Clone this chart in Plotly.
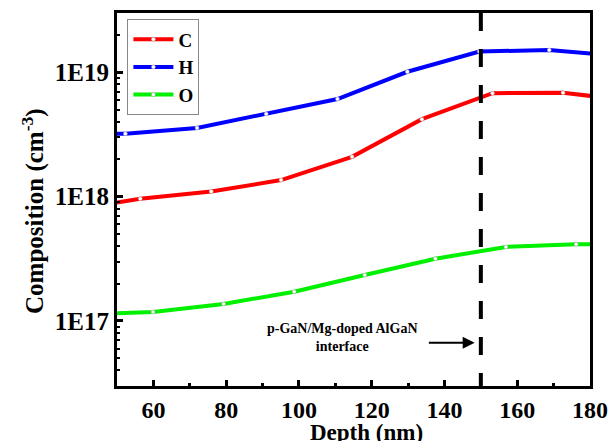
import plotly.graph_objects as go

# ---- data ----
depth_C = [37.0, 56.4, 75.9, 95.1, 114.6, 133.8, 153.2, 172.6, 192.0]
conc_C = [7.8e17, 9.6e17, 1.10e18, 1.36e18, 2.09e18, 4.2e18, 6.8e18, 6.84e18, 5.9e18]

depth_H = [32.9, 52.3, 72.0, 91.0, 110.6, 129.8, 149.6, 168.8, 188.2]
conc_H = [3.25e18, 3.2e18, 3.57e18, 4.63e18, 6.1e18, 1.01e19, 1.47e19, 1.51e19, 1.35e19]

depth_O = [40.5, 59.9, 79.3, 98.7, 118.1, 137.5, 156.9, 176.2, 195.6]
conc_O = [1.13e17, 1.18e17, 1.37e17, 1.72e17, 2.34e17, 3.17e17, 3.94e17, 4.14e17, 4.17e17]

series_names = ["C", "H", "O"]
series_colors = ["#FF0000", "#0000FF", "#00F000"]

interface_depth = 150
interface_label_lines = ["p-GaN/Mg-doped AlGaN", "interface"]

x_ticks = [60, 80, 100, 120, 140, 160, 180]
y_ticks = [1e17, 1e18, 1e19]
y_tick_labels = ["1E17", "1E18", "1E19"]

x_title = "Depth (nm)"
y_title = "Composition (cm<sup>-3</sup>)"

FONT = "'Liberation Serif', 'Times New Roman', serif"

fig = go.Figure()
for name, xs, ys, col in zip(series_names, [depth_C, depth_H, depth_O],
                             [conc_C, conc_H, conc_O], series_colors):
    fig.add_trace(go.Scatter(
        x=xs, y=ys, name=name, mode="lines+markers",
        line=dict(color=col, width=4),
        marker=dict(size=4, color="white", line=dict(color="#999999", width=0.5)),
        cliponaxis=True,
    ))

# dashed interface line
fig.add_shape(type="line", xref="x", yref="y domain",
              x0=interface_depth, x1=interface_depth, y0=1, y1=0,
              line=dict(color="black", width=4, dash="18px,18px"))

# annotation text + arrow (log-axis annotations use log10 values)
fig.add_annotation(x=112, xref="x", y=16.87, yref="y",
                   text="<br>".join("<b>%s</b>" % s for s in interface_label_lines),
                   showarrow=False, font=dict(family=FONT, size=14, color="black"),
                   align="center")
fig.add_annotation(x=148.3, y=16.825, xref="x", yref="y",
                   ax=135.3, ay=16.825, axref="x", ayref="y",
                   showarrow=True, arrowhead=2, arrowsize=1.2, arrowwidth=2,
                   arrowcolor="black", text="")

# axis titles
fig.add_annotation(x=0.527, y=-0.125, xref="paper", yref="paper",
                   xanchor="center", yanchor="middle",
                   text="<b>%s</b>" % x_title, showarrow=False,
                   font=dict(family=FONT, size=23, color="black"))
fig.add_annotation(x=-0.177, y=0.47, xref="paper", yref="paper",
                   xanchor="center", yanchor="middle",
                   text="<b>%s</b>" % y_title, showarrow=False, textangle=-90,
                   font=dict(family=FONT, size=25, color="black"))

minor_vals = []
for dec in [1e16, 1e17, 1e18, 1e19]:
    for m in range(2, 10):
        minor_vals.append(m * dec)

fig.update_layout(
    width=611, height=441,
    margin=dict(l=117, r=21, t=13, b=55),
    paper_bgcolor="white", plot_bgcolor="white",
    font=dict(family=FONT, color="black"),
    showlegend=True,
    legend=dict(x=0.022, y=0.983, xanchor="left", yanchor="top",
                bgcolor="white", bordercolor="#888888", borderwidth=1,
                font=dict(family=FONT, size=19, color="black", weight="bold"),
                itemwidth=40, tracegroupgap=0),
    xaxis=dict(range=[50, 180], tickvals=x_ticks, automargin=False,
               ticks="inside", ticklen=6, tickwidth=3, tickcolor="black",
               minor=dict(dtick=10, tick0=0, ticks="inside", ticklen=3, tickwidth=3, tickcolor="black"),
               showline=True, linewidth=3, linecolor="black", mirror=True,
               showgrid=False, zeroline=False,
               tickfont=dict(family=FONT, size=24, weight="bold")),
    yaxis=dict(type="log", range=[16.477, 19.477], automargin=False,
               tickvals=y_ticks, ticktext=y_tick_labels,
               ticks="inside", ticklen=6, tickwidth=3, tickcolor="black",
               minor=dict(tickvals=minor_vals, ticks="inside", ticklen=3, tickwidth=2, tickcolor="black"),
               showline=True, linewidth=3, linecolor="black", mirror=True,
               showgrid=False, zeroline=False,
               tickfont=dict(family=FONT, size=25, weight="bold")),
)

fig.write_html("out.html", config={"displayModeBar": False},
               post_script="document.body.style.margin='0px';document.body.style.overflow='hidden';")
